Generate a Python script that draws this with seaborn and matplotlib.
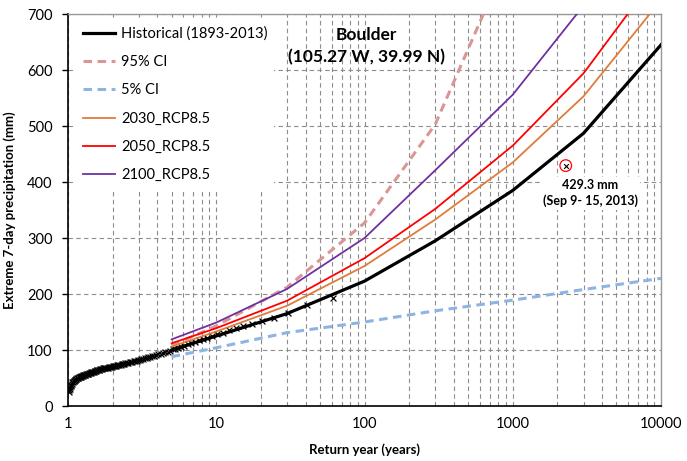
import numpy as np
import pandas as pd
import seaborn as sns
import matplotlib.pyplot as plt
from matplotlib.ticker import LogLocator, NullFormatter

# return periods of the fitted curves (years)
returnYears = [5, 10, 30, 100, 300, 1000, 3000, 10000]
historical = [100, 125, 165, 223, 295, 385, 487, 645]
ci95 = [108, 143, 212, 327, 503, 820, 1250, 1900]
ci5 = [88, 104, 131, 150, 170, 189, 208, 228]
rcp2030 = [106, 133, 179, 250, 333, 435, 553, 725]
rcp2050 = [112, 139, 188, 264, 352, 465, 594, 780]
rcp2100 = [119, 149, 209, 300, 421, 556, 715, 1000]

# observed annual maxima (plotting position return year, mm)
obsYears = [61.00, 40.67, 30.50, 24.40, 20.33, 17.43, 15.25, 13.56, 12.20, 11.09,
            10.17, 9.38, 8.71, 8.13, 7.63, 7.18, 6.78, 6.42, 6.10, 5.81,
            5.55, 5.30, 5.08, 4.88, 4.69, 4.52, 4.36, 4.21, 4.07, 3.94,
            3.81, 3.70, 3.59, 3.49, 3.39, 3.30, 3.21, 3.13, 3.05, 2.98,
            2.90, 2.84, 2.77, 2.71, 2.65, 2.60, 2.54, 2.49, 2.44, 2.39,
            2.35, 2.30, 2.26, 2.22, 2.18, 2.14, 2.10, 2.07, 2.03, 2.00,
            1.97, 1.94, 1.91, 1.88, 1.85, 1.82, 1.79, 1.77, 1.74, 1.72,
            1.69, 1.67, 1.65, 1.63, 1.61, 1.58, 1.56, 1.54, 1.53, 1.51,
            1.49, 1.47, 1.45, 1.44, 1.42, 1.40, 1.39, 1.37, 1.36, 1.34,
            1.33, 1.31, 1.30, 1.28, 1.27, 1.26, 1.24, 1.23, 1.22, 1.21,
            1.20, 1.18, 1.17, 1.16, 1.15, 1.14, 1.13, 1.12, 1.11, 1.10,
            1.09, 1.08, 1.07, 1.06, 1.05, 1.04, 1.03, 1.03, 1.02, 1.01]
obsPrecip = [193, 180, 166, 158, 152, 147, 143, 139, 135, 131,
             128, 125, 122, 119, 117, 114, 112, 110, 108, 106,
             104, 102, 101, 99, 97, 96, 95, 93, 92, 91,
             90, 89, 88, 87, 86, 85, 84.5, 83.5, 83, 82,
             81, 80.5, 80, 79, 78.5, 78, 77, 76.5, 76, 75.5,
             75, 74.5, 74, 73.5, 73, 72.5, 72, 71.5, 71, 71,
             70.5, 70, 69.5, 69, 68.5, 68, 67.5, 67.5, 67, 67,
             66.5, 66, 65.5, 65, 64.5, 64, 63.5, 63, 62.5, 62,
             61.5, 61, 60.5, 60, 59.5, 59, 58.5, 58, 57.5, 57,
             56.5, 56, 55.5, 55, 54.5, 54, 53.5, 53, 52.5, 52,
             51.5, 51, 50.5, 50, 49.5, 49, 48, 47, 46, 45,
             44, 43, 42, 40, 38, 36, 34, 31, 28, 25]

event2013Year = 2277
event2013Precip = 429.3

plt.rcParams['font.family'] = ['Lato', 'DejaVu Sans']

fig = plt.figure(figsize=(6.87, 4.61), dpi=100)
ax = fig.add_axes([0.0990, 0.1193, 0.8632, 0.8503])

sns.scatterplot(x=obsYears, y=obsPrecip, marker='x', s=18, color='black',
                linewidth=0.9, ax=ax, zorder=3, legend=False)

sns.lineplot(x=returnYears, y=historical, color='black', linewidth=2.3,
             label='Historical (1893-2013)', ax=ax, zorder=4)
sns.lineplot(x=returnYears, y=ci95, color='#D99694', linewidth=2.2,
             linestyle=(0, (2.8, 1.8)), label='95% CI', ax=ax, zorder=3)
sns.lineplot(x=returnYears, y=ci5, color='#8EB4E3', linewidth=2.2,
             linestyle=(0, (2.8, 1.8)), label='5% CI', ax=ax, zorder=3)
sns.lineplot(x=returnYears, y=rcp2030, color='#E07B39', linewidth=1.3,
             label='2030_RCP8.5', ax=ax, zorder=3)
sns.lineplot(x=returnYears, y=rcp2050, color='#FF0000', linewidth=1.3,
             label='2050_RCP8.5', ax=ax, zorder=3)
sns.lineplot(x=returnYears, y=rcp2100, color='#7030A0', linewidth=1.3,
             label='2100_RCP8.5', ax=ax, zorder=3)

# 2013 flood event
ax.scatter([event2013Year], [event2013Precip], s=70, facecolors='none',
           edgecolors='red', linewidths=0.9, zorder=5)
ax.scatter([event2013Year], [event2013Precip], s=12, marker='x',
           color='black', linewidths=0.8, zorder=6)
ax.text(3320, 380, '429.3 mm\n(Sep 9- 15, 2013)', ha='center', va='center',
        fontsize=9, fontweight='bold', linespacing=1.3, zorder=6,
        bbox=dict(facecolor='white', edgecolor='none', pad=2))

ax.text(0.5025, 0.918, 'Boulder\n(105.27 W, 39.99 N)', transform=ax.transAxes,
        ha='center', va='center', fontsize=12.5, fontweight='bold',
        linespacing=1.5, zorder=6)

ax.set_xscale('log')
ax.set_xlim(1, 10000)
ax.set_ylim(0, 700)
ax.set_xticks([1, 10, 100, 1000, 10000])
ax.set_xticklabels(['1', '10', '100', '1000', '10000'])
ax.xaxis.set_minor_locator(LogLocator(base=10, subs=np.arange(2, 10)))
ax.xaxis.set_minor_formatter(NullFormatter())
ax.set_yticks(range(0, 701, 100))

gridStyle = dict(linestyle=(0, (4, 3)), color='#8c8c8c', linewidth=0.8)
ax.grid(True, which='both', axis='x', **gridStyle)
ax.grid(True, which='major', axis='y', **gridStyle)
ax.set_axisbelow(True)

ax.tick_params(axis='x', which='both', length=0, pad=8, labelsize=10.5)
ax.tick_params(axis='y', which='major', length=4, width=1, direction='out',
               pad=7, labelsize=10.5, color='black')

for side in ['left', 'bottom']:
    ax.spines[side].set_color('black')
    ax.spines[side].set_linewidth(1.2)
for side in ['top', 'right']:
    ax.spines[side].set_color('#999999')
    ax.spines[side].set_linewidth(1)

ax.set_xlabel('Return year (years)', fontsize=9.5, fontweight='bold', labelpad=9)
ax.set_ylabel('Extreme 7-day precipitation (mm)', fontsize=9.5,
              fontweight='bold', labelpad=8)

leg = ax.legend(loc='upper left', bbox_to_anchor=(0.0135, 0.985),
                borderaxespad=0, fontsize=10.5, frameon=True, framealpha=1,
                facecolor='white', edgecolor='none', fancybox=False,
                handlelength=2.2, handletextpad=0.45, labelspacing=0.98,
                borderpad=0.45)
leg.set_zorder(10)

plt.savefig('out.png', dpi=100)
